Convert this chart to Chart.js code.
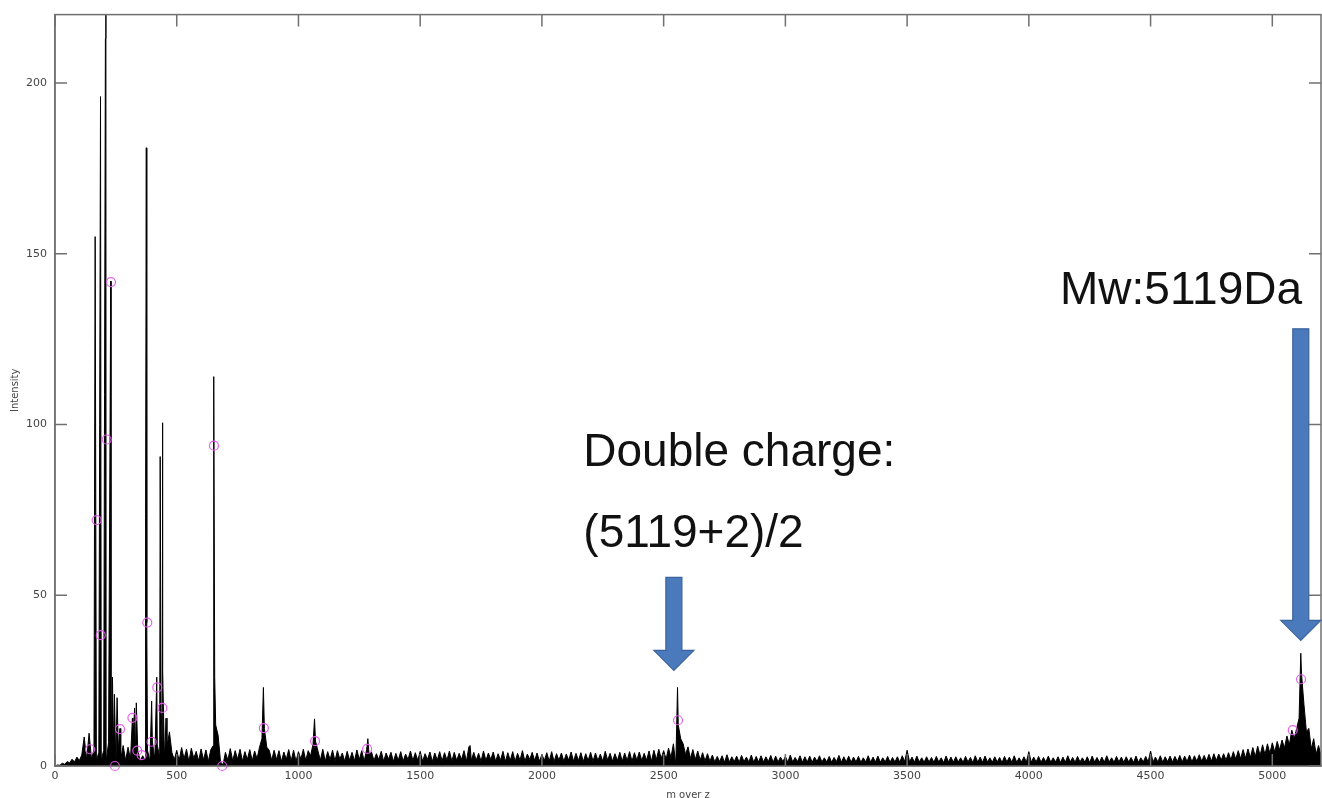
<!DOCTYPE html>
<html>
<head>
<meta charset="utf-8">
<script src="https://cdn.jsdelivr.net/npm/chart.js@4.4.0/dist/chart.umd.min.js"></script>
<style>
  html, body { margin: 0; padding: 0; background: #fff; }
</style>
</head>
<body>
<canvas id="spectrum" width="1322" height="798"></canvas>
<script>
// Baseline of the spectrum, one value every 10 m/z (0 .. 5200)
const MZ_STEP = 10;
const baseline = [
  0, 0.3, 0.2, 0.8, 0.5, 1.3, 0.9, 2.0, 1.2, 2.6,        // 0
  1.6, 3.2, 8.5, 1.8, 9.6, 2.0, 4.8, 1.5, 4.0, 1.9,      // 100
  4.5, 1.4, 6.8, 1.2, 5.2, 0.3, 4.8, 1.8, 6.0, 1.6,      // 200
  5.5, 1.9, 7.2, 2.2, 4.5, 1.5, 3.0, 1.8, 4.6, 1.4,      // 300
  7.0, 2.0, 6.2, 2.4, 7.5, 1.7, 5.6, 10.0, 4.0, 1.8,     // 400
  4.6, 1.6, 5.4, 2.1, 4.9, 1.3, 5.2, 2.2, 4.3, 1.5,      // 500
  5.0, 1.8, 4.7, 1.4, 4.8, 6.0, 12.0, 9.0, 1.2, 0.3,     // 600
  4.0, 1.7, 5.1, 1.5, 4.5, 2.0, 4.9, 1.4, 4.2, 1.9,      // 700
  4.8, 1.5, 4.4, 2.1, 5.5, 8.0, 11.0, 5.5, 4.6, 1.7,     // 800
  4.6, 1.9, 4.5, 1.3, 4.1, 2.0, 4.8, 1.5, 4.6, 1.4,      // 900
  4.2, 2.0, 4.9, 1.6, 4.5, 3.0, 6.5, 7.3, 4.4, 1.7,      // 1000
  4.9, 1.4, 4.2, 1.9, 4.6, 1.5, 4.5, 2.0, 3.8, 1.4,      // 1100
  4.3, 1.7, 4.0, 1.5, 4.7, 1.9, 4.5, 1.4, 4.8, 3.4,      // 1200
  4.1, 1.6, 3.6, 1.9, 4.3, 1.4, 3.8, 2.0, 4.0, 1.3,      // 1300
  3.7, 1.7, 4.2, 1.4, 3.5, 1.9, 4.4, 1.6, 3.9, 1.7,      // 1400
  4.3, 1.4, 3.6, 1.9, 4.1, 1.3, 3.8, 1.7, 4.2, 1.5,      // 1500
  3.9, 1.7, 4.4, 1.4, 4.0, 1.6, 3.7, 1.9, 4.5, 1.4,      // 1600
  5.6, 1.6, 4.0, 1.7, 3.7, 1.4, 4.4, 1.6, 3.8, 1.9,      // 1700
  4.1, 1.4, 3.6, 1.7, 4.3, 1.3, 3.9, 1.6, 4.2, 1.4,      // 1800
  3.7, 1.7, 4.5, 1.4, 3.5, 1.9, 4.0, 1.6, 3.8, 1.4,      // 1900
  3.4, 1.6, 3.9, 1.4, 4.2, 1.3, 3.6, 1.7, 3.8, 1.4,      // 2000
  3.5, 1.7, 4.1, 1.4, 3.7, 1.6, 3.9, 1.3, 3.6, 1.6,      // 2100
  4.0, 1.4, 3.8, 1.6, 3.5, 1.4, 4.3, 1.7, 3.7, 1.4,      // 2200
  3.6, 1.6, 4.0, 1.4, 3.8, 1.6, 4.2, 1.4, 3.9, 1.7,      // 2300
  4.1, 1.6, 3.7, 1.7, 4.4, 1.4, 4.6, 1.9, 4.9, 2.2,      // 2400
  4.5, 2.0, 5.2, 2.5, 6.5, 0.4, 12.0, 8.0, 6.5, 3.4,     // 2500
  5.6, 2.2, 4.8, 1.9, 4.4, 1.7, 3.9, 1.5, 3.6, 1.4,      // 2600
  3.2, 1.2, 2.8, 1.3, 3.0, 1.1, 3.3, 1.2, 2.7, 1.3,      // 2700
  2.9, 1.1, 3.1, 1.3, 2.6, 1.2, 3.2, 1.1, 2.8, 1.2,      // 2800
  3.0, 1.2, 2.7, 1.3, 3.1, 1.1, 2.9, 1.2, 2.6, 1.3,      // 2900
  2.8, 1.1, 3.2, 1.2, 2.5, 1.3, 3.0, 1.1, 2.7, 1.2,      // 3000
  2.9, 1.1, 2.6, 1.3, 3.0, 1.2, 2.4, 1.2, 2.8, 1.1,      // 3100
  2.5, 1.3, 3.1, 1.1, 2.7, 1.2, 2.9, 1.1, 2.6, 1.2,      // 3200
  2.8, 1.1, 2.4, 1.2, 3.0, 1.1, 2.6, 1.2, 2.9, 1.1,      // 3300
  2.4, 1.2, 2.8, 1.1, 2.5, 1.2, 2.7, 1.1, 3.0, 1.3,      // 3400
  4.6, 1.2, 2.6, 1.1, 2.9, 1.2, 2.4, 1.1, 2.7, 1.2,      // 3500
  2.5, 1.1, 2.8, 1.2, 2.4, 1.0, 2.9, 1.2, 2.6, 1.1,      // 3600
  2.7, 1.2, 2.4, 1.1, 2.8, 1.2, 2.5, 1.0, 3.0, 1.1,      // 3700
  2.6, 1.1, 2.9, 1.2, 2.4, 1.1, 2.7, 1.2, 2.5, 1.0,      // 3800
  2.8, 1.2, 2.6, 1.1, 3.0, 1.1, 2.4, 1.2, 2.7, 1.2,      // 3900
  4.2, 1.1, 2.6, 1.2, 2.8, 1.1, 2.5, 1.2, 2.9, 1.1,      // 4000
  2.4, 1.2, 2.7, 1.0, 2.6, 1.1, 3.0, 1.2, 2.5, 1.1,      // 4100
  2.8, 1.2, 2.4, 1.1, 2.7, 1.0, 2.9, 1.2, 2.5, 1.1,      // 4200
  2.6, 1.1, 3.0, 1.2, 2.4, 1.1, 2.8, 1.2, 2.6, 1.1,      // 4300
  2.7, 1.2, 2.5, 1.0, 2.9, 1.1, 2.4, 1.2, 2.8, 1.2,      // 4400
  4.4, 1.2, 2.6, 1.2, 3.0, 1.1, 2.7, 1.3, 2.9, 1.2,      // 4500
  2.8, 1.3, 3.1, 1.2, 2.9, 1.3, 3.2, 1.2, 3.0, 1.4,      // 4600
  3.3, 1.4, 3.1, 1.5, 3.4, 1.4, 3.6, 1.6, 3.5, 1.7,      // 4700
  3.6, 1.7, 3.9, 1.8, 4.2, 2.0, 4.5, 2.1, 4.8, 2.3,      // 4800
  5.0, 2.5, 5.4, 2.7, 5.8, 3.1, 6.2, 3.3, 6.5, 3.7,      // 4900
  6.8, 4.1, 7.2, 4.7, 7.6, 5.3, 8.8, 6.2, 10.5, 8.0,     // 5000
  11.0, 14.0, 27.0, 18.0, 10.0, 11.0, 5.0, 8.0, 3.5, 6.0, // 5100
  3.0                                                    // 5200
];

// Sharp peaks (sticks) placed between the baseline samples
const peakMz = [165, 187, 207, 209, 229, 236, 244, 255, 267, 318, 327, 334, 372, 375, 377,
  397, 418, 432, 436, 441, 443, 456, 651, 653, 656, 856, 1066, 1285, 1705, 2557, 5117];
const peakIntensity = [155, 196, 213, 232, 142, 26, 21, 20, 11, 14, 17, 18.5, 74, 181, 42,
  19, 26, 90.6, 16.7, 100.5, 27.6, 14, 42, 114, 26, 23, 13.8, 8, 6, 23, 33];

// Picked peaks (magenta circles)
const markerMz = [144, 171, 188, 212, 230, 246, 267, 318, 338, 356, 379, 397, 420, 441,
  653, 687, 858, 1068, 1282, 2559, 5084, 5118];
const markerIntensity = [4.9, 72, 38.3, 95.6, 141.7, 0, 10.8, 14.1, 4.5, 3.2, 42, 7.1, 23, 17,
  93.8, 0, 11.1, 7.3, 5, 13.4, 10.5, 25.4];

// Axis ranges and tick values
const xMin = 0, xMax = 5200;
const xTickValues = [0, 500, 1000, 1500, 2000, 2500, 3000, 3500, 4000, 4500, 5000];
const yMin = 0, yMax = 220;
const yTickValues = [0, 50, 100, 150, 200];

// Annotations (anchored in data units)
const noteTexts = ["Double charge:", "(5119+2)/2", "Mw:5119Da"];
const noteMz = [2170, 2170, 4128];
const noteIntensity = [87.9, 64, 135.3];
const arrowMz = [2542, 5117];
const arrowTop = [55.2, 128];
const arrowTip = [28, 36.8];

const AXIS_COLOR = "#707070";
const TICK_FONT = "'DejaVu Sans', sans-serif";

function getSpectrum() {
  var points = baseline.map((v, i) => ({x: i * MZ_STEP, y: v}));
  peakMz.forEach((mz, i) => points.push({x: mz, y: peakIntensity[i]}));
  points.sort((a, b) => a.x - b.x);
  return points;
}

function getMarkers() {
  return markerMz.map((mz, i) => ({x: mz, y: markerIntensity[i]}));
}

// MATLAB-like box with inward ticks on all four sides
const boxPlugin = {
  id: "box",
  afterDatasetsDraw(chart) {
    const {ctx, chartArea: a, scales: {x, y}} = chart;
    ctx.save();
    ctx.strokeStyle = AXIS_COLOR;
    ctx.lineWidth = 1.5;
    ctx.strokeRect(a.left, a.top, a.right - a.left, a.bottom - a.top);
    ctx.beginPath();
    x.ticks.forEach((t) => {
      const px = x.getPixelForValue(t.value);
      ctx.moveTo(px, a.bottom); ctx.lineTo(px, a.bottom - 12);
      ctx.moveTo(px, a.top); ctx.lineTo(px, a.top + 12);
    });
    y.ticks.forEach((t) => {
      const py = y.getPixelForValue(t.value);
      ctx.moveTo(a.left, py); ctx.lineTo(a.left + 12, py);
      ctx.moveTo(a.right, py); ctx.lineTo(a.right - 12, py);
    });
    ctx.stroke();
    ctx.restore();
  },
  afterDraw(chart) {
    const {ctx, scales: {x, y}} = chart;
    ctx.save();
    // blue arrows
    ctx.fillStyle = "#4a7abb";
    ctx.strokeStyle = "#3a629c";
    ctx.lineWidth = 1.2;
    arrowMz.forEach((mz, i) => {
      const cx = x.getPixelForValue(mz);
      const top = y.getPixelForValue(arrowTop[i]);
      const tip = y.getPixelForValue(arrowTip[i]);
      const head = 20, shaft = 8, wing = 20;
      ctx.beginPath();
      ctx.moveTo(cx - shaft, top);
      ctx.lineTo(cx + shaft, top);
      ctx.lineTo(cx + shaft, tip - head);
      ctx.lineTo(cx + wing, tip - head);
      ctx.lineTo(cx, tip);
      ctx.lineTo(cx - wing, tip - head);
      ctx.lineTo(cx - shaft, tip - head);
      ctx.closePath();
      ctx.fill();
      ctx.stroke();
    });
    // text
    ctx.fillStyle = "#111";
    ctx.font = "46px 'Liberation Sans', Arial, sans-serif";
    ctx.textAlign = "left";
    ctx.textBaseline = "alphabetic";
    noteTexts.forEach((txt, i) => {
      ctx.fillText(txt, x.getPixelForValue(noteMz[i]), y.getPixelForValue(noteIntensity[i]));
    });
    ctx.restore();
  }
};

var ctx = document.getElementById("spectrum");
var theChart = new Chart(ctx, {
  type: "line",
  data: {
    datasets: [
      {
        label: "Peaks",
        type: "scatter",
        data: getMarkers(),
        pointStyle: "circle",
        pointRadius: 4.5,
        pointBorderWidth: 1.2,
        pointBorderColor: "rgba(228, 90, 238, 0.95)",
        pointBackgroundColor: "rgba(0,0,0,0)",
        showLine: false,
        clip: false
      },
      {
        label: "Spectrum",
        data: getSpectrum(),
        borderColor: "#000",
        backgroundColor: "#000",
        borderWidth: 1,
        pointRadius: 0,
        tension: 0,
        fill: "origin"
      }
    ]
  },
  options: {
    responsive: false,
    animation: false,
    events: [],
    layout: {autoPadding: false, padding: {top: 13, right: 1, left: 0, bottom: 0}},
    plugins: {
      legend: {display: false},
      tooltip: {enabled: false}
    },
    scales: {
      x: {
        type: "linear",
        min: xMin,
        max: xMax,
        afterBuildTicks: (s) => { s.ticks = xTickValues.map((v) => ({value: v})); },
        afterFit: (s) => { s.height = 32; s.paddingLeft = 0; s.paddingRight = 0; },
        grid: {display: false, drawTicks: false},
        border: {display: true, color: AXIS_COLOR, width: 1.5},
        ticks: {
          autoSkip: false,
          maxRotation: 0,
          padding: 4,
          color: "#444",
          font: {family: TICK_FONT, size: 11},
          callback: (v) => String(v)
        },
        title: {
          display: true,
          text: "m over z",
          color: "#444",
          padding: 0,
          font: {family: TICK_FONT, size: 10, lineHeight: 0.6}
        }
      },
      y: {
        type: "linear",
        min: yMin,
        max: yMax,
        afterBuildTicks: (s) => { s.ticks = yTickValues.map((v) => ({value: v})); },
        afterFit: (s) => { s.width = 55; },
        grid: {display: false, drawTicks: false},
        border: {display: true, color: AXIS_COLOR, width: 1.5},
        ticks: {
          padding: 8,
          color: "#444",
          font: {family: TICK_FONT, size: 11},
          callback: (v) => String(v)
        },
        title: {
          display: true,
          text: "Intensity",
          color: "#444",
          padding: {top: 9, bottom: 0},
          font: {family: TICK_FONT, size: 10}
        }
      }
    }
  },
  plugins: [boxPlugin]
});
</script>
</body>
</html>
